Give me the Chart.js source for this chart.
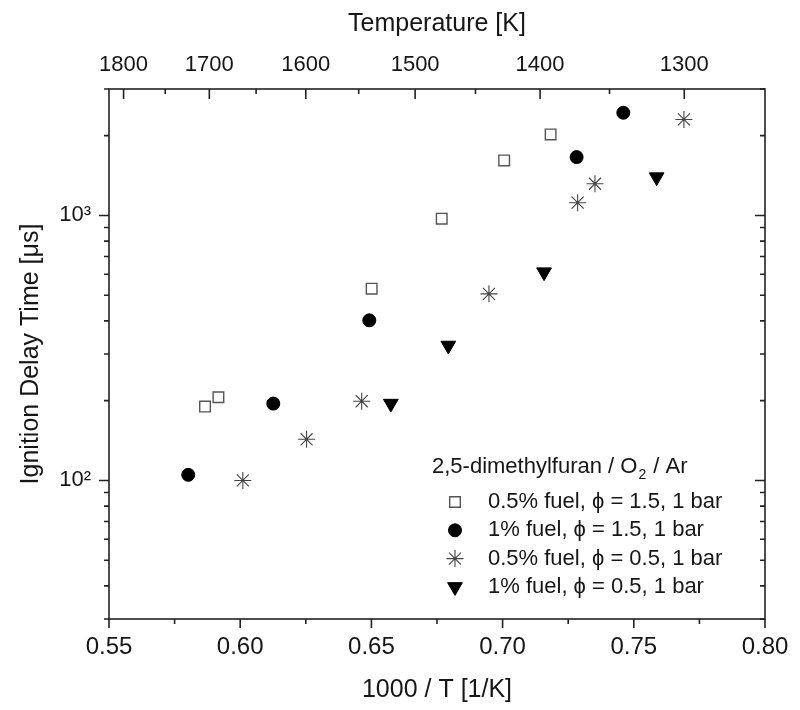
<!DOCTYPE html>
<html lang="en">
<head>
<meta charset="UTF-8">
<title>Ignition Delay Time - 2,5-dimethylfuran</title>
<script src="https://cdn.jsdelivr.net/npm/chart.js"></script>
<style>
    html, body { margin: 0; padding: 0; background: #fff; }
    #wrap { width: 800px; height: 710px; }
</style>
</head>
<body>
<div id="wrap"><canvas id="idtChart" width="800" height="710"></canvas></div>
<script>
// 1000/T [1/K] and ignition delay time [us]
const sqX = [0.5866, 0.5917, 0.6501, 0.6768, 0.7006, 0.7183];
const sqY = [190, 206, 529, 972, 1613, 2022];
const ciX = [0.5802, 0.6126, 0.6492, 0.7282, 0.7460];
const ciY = [105, 195, 402, 1660, 2441];
const stX = [0.6010, 0.6253, 0.6463, 0.6948, 0.7286, 0.7352, 0.7691];
const stY = [100, 143, 199, 506, 1117, 1317, 2303];
const trX = [0.6574, 0.6793, 0.7158, 0.7587];
const trY = [195, 323, 611, 1395];

const seriesLabels = [
    '0.5% fuel, \u03D5 = 1.5, 1 bar',
    '1% fuel, \u03D5 = 1.5, 1 bar',
    '0.5% fuel, \u03D5 = 0.5, 1 bar',
    '1% fuel, \u03D5 = 0.5, 1 bar'
];

// axis ticks
const xTicks = [0.55, 0.60, 0.65, 0.70, 0.75, 0.80];
const xMinor = [0.575, 0.625, 0.675, 0.725, 0.775];
const tempTicks = [1800, 1700, 1600, 1500, 1400, 1300];
const tempMinor = [1750, 1650, 1550, 1450, 1350];
const yTicks = [100, 1000];
const yMinor = [30, 40, 50, 60, 70, 80, 90, 200, 300, 400, 500, 600, 700, 800, 900, 2000, 3000];

const FONT = "'Liberation Sans', Arial, Helvetica, sans-serif";
Chart.defaults.font.family = FONT;
Chart.defaults.color = '#161616';

function pts(xs, ys) {
    return xs.map((x, i) => ({ x: x, y: ys[i] }));
}

// frame and tick marks (left/bottom outward, top/right inward like the original)
const frameTicks = {
    id: 'frameTicks',
    afterDatasetsDraw(chart) {
        const { ctx, chartArea: a, scales } = chart;
        const x = scales.x, t = scales.xTop, y = scales.y;
        ctx.save();
        ctx.strokeStyle = '#222';
        ctx.lineWidth = 1.6;
        ctx.strokeRect(a.left, a.top, a.right - a.left, a.bottom - a.top);
        ctx.beginPath();
        xTicks.forEach(v => { const p = x.getPixelForValue(v); ctx.moveTo(p, a.bottom); ctx.lineTo(p, a.bottom + 9); });
        xMinor.forEach(v => { const p = x.getPixelForValue(v); ctx.moveTo(p, a.bottom); ctx.lineTo(p, a.bottom + 5); });
        tempTicks.forEach(T => { const p = t.getPixelForValue(1000 / T); ctx.moveTo(p, a.top); ctx.lineTo(p, a.top + 10); });
        tempMinor.forEach(T => { const p = t.getPixelForValue(1000 / T); ctx.moveTo(p, a.top); ctx.lineTo(p, a.top + 5); });
        yTicks.forEach(v => {
            const p = y.getPixelForValue(v);
            ctx.moveTo(a.left, p); ctx.lineTo(a.left - 10, p);
            ctx.moveTo(a.right, p); ctx.lineTo(a.right - 10, p);
        });
        yMinor.forEach(v => {
            const p = y.getPixelForValue(v);
            ctx.moveTo(a.left, p); ctx.lineTo(a.left - 5, p);
            ctx.moveTo(a.right, p); ctx.lineTo(a.right - 5, p);
        });
        ctx.stroke();
        ctx.restore();
    }
};

// legend inside the plot, lower right
const insideLegend = {
    id: 'insideLegend',
    afterDraw(chart) {
        const ctx = chart.ctx;
        const left = 432, titleY = 467, markX = 455, textX = 488, rowY = 502, rowH = 28.3;
        ctx.save();
        ctx.fillStyle = '#161616';
        ctx.textBaseline = 'middle';
        ctx.textAlign = 'left';
        ctx.font = '22px ' + FONT;
        let s = '2,5-dimethylfuran / O';
        ctx.fillText(s, left, titleY);
        let w = ctx.measureText(s).width;
        ctx.font = '14px ' + FONT;
        ctx.fillText('2', left + w + 1, titleY + 8);
        w += ctx.measureText('2').width + 2;
        ctx.font = '22px ' + FONT;
        ctx.fillText(' / Ar', left + w, titleY);

        chart.data.datasets.forEach((ds, i) => {
            const yy = rowY + i * rowH;
            ctx.fillStyle = ds.backgroundColor;
            ctx.strokeStyle = ds.borderColor;
            ctx.lineWidth = ds.borderWidth;
            Chart.helpers.drawPoint(ctx, {
                pointStyle: ds.pointStyle,
                radius: ds.pointRadius,
                rotation: ds.pointRotation || 0,
                borderWidth: ds.borderWidth
            }, markX, yy);
            ctx.fillStyle = '#161616';
            ctx.font = '22px ' + FONT;
            ctx.fillText(seriesLabels[i], textX, yy);
        });
        ctx.restore();
    }
};

const ctx = document.getElementById('idtChart').getContext('2d');
const idtChart = new Chart(ctx, {
    type: 'scatter',
    data: {
        datasets: [
            { label: seriesLabels[0], data: pts(sqX, sqY), pointStyle: 'rect', pointRadius: 7.5,
              backgroundColor: '#ffffff', borderColor: '#555555', borderWidth: 1.4 },
            { label: seriesLabels[1], data: pts(ciX, ciY), pointStyle: 'circle', pointRadius: 6.5,
              backgroundColor: '#000000', borderColor: '#000000', borderWidth: 1 },
            { label: seriesLabels[2], data: pts(stX, stY), pointStyle: 'star', pointRadius: 8.5,
              backgroundColor: '#444444', borderColor: '#444444', borderWidth: 1.1 },
            { label: seriesLabels[3], data: pts(trX, trY), pointStyle: 'triangle', pointRotation: 180, pointRadius: 8.5,
              backgroundColor: '#000000', borderColor: '#000000', borderWidth: 1 }
        ]
    },
    options: {
        responsive: false,
        animation: false,
        events: [],
        layout: { padding: { left: 0, right: 35, top: 0, bottom: 0 } },
        plugins: { legend: { display: false }, tooltip: { enabled: false } },
        scales: {
            x: {
                type: 'linear', position: 'bottom', min: 0.55, max: 0.80,
                grid: { display: false, drawTicks: false }, border: { display: false },
                afterBuildTicks: s => { s.ticks = xTicks.map(v => ({ value: v })); },
                afterFit: s => { s.height = 91; s.paddingLeft = 0; s.paddingRight = 0; },
                ticks: { autoSkip: false, maxRotation: 0, padding: 14, font: { size: 24 },
                         callback: v => v.toFixed(2) },
                title: { display: true, text: '1000 / T [1/K]', font: { size: 25 }, padding: { top: 0, bottom: 5 } }
            },
            xTop: {
                type: 'linear', position: 'top', min: 0.55, max: 0.80,
                grid: { display: false, drawTicks: false }, border: { display: false },
                afterBuildTicks: s => { s.ticks = tempTicks.map(T => ({ value: 1000 / T })); },
                afterFit: s => { s.height = 89; s.paddingLeft = 0; s.paddingRight = 0; },
                ticks: { autoSkip: false, maxRotation: 0, padding: 11, font: { size: 22 },
                         callback: v => String(Math.round(1000 / v)) },
                title: { display: true, text: 'Temperature [K]', font: { size: 25 }, padding: { top: 9, bottom: 0 } }
            },
            y: {
                type: 'logarithmic', position: 'left', min: 30, max: 3000,
                grid: { display: false, drawTicks: false }, border: { display: false },
                afterBuildTicks: s => { s.ticks = yTicks.map(v => ({ value: v })); },
                afterFit: s => { s.width = 109; s.paddingTop = 0; s.paddingBottom = 0; },
                ticks: { autoSkip: false, padding: 18, font: { size: 22 },
                         callback: v => (v === 100 ? '10\u00B2' : v === 1000 ? '10\u00B3' : '') },
                title: { display: true, text: 'Ignition Delay Time [\u03BCs]', font: { size: 25 }, padding: { top: 16, bottom: 0 } }
            }
        }
    },
    plugins: [frameTicks, insideLegend]
});
</script>
</body>
</html>
